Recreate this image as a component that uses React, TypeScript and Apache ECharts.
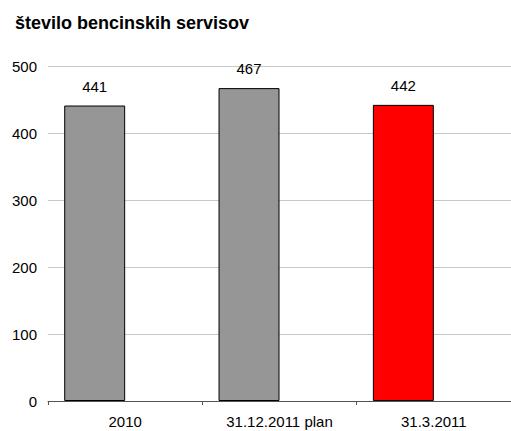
import React, { useEffect, useRef } from "react";
import * as echarts from "echarts";

const TITLE = "število bencinskih servisov";
const categories = ["2010", "31.12.2011 plan", "31.3.2011"];
const values = [441, 467, 442];
const barColors = ["#969696", "#969696", "#ff0000"];
const yTicks = { min: 0, max: 500, interval: 100 };

export default function App() {
  const ref = useRef<HTMLDivElement>(null);
  useEffect(() => {
    document.body.style.margin = "0";
    const chart = echarts.init(ref.current!, null, { renderer: "svg" });
    const font = "'Liberation Sans', Arial, sans-serif";
    chart.setOption({
      animation: false,
      backgroundColor: "#ffffff",
      title: {
        text: TITLE,
        left: 10,
        top: 9,
        textStyle: { fontFamily: font, fontSize: 18, fontWeight: "bold", color: "#000" },
      },
      grid: { left: 48, right: 0, top: 66, bottom: 30, containLabel: false },
      xAxis: {
        type: "category",
        data: categories,
        axisLine: { lineStyle: { color: "#555", width: 1 } },
        axisTick: { show: true, length: 4, lineStyle: { color: "#555" } },
        axisLabel: { fontFamily: font, fontSize: 15, color: "#000", margin: 13 },
      },
      yAxis: {
        type: "value",
        min: yTicks.min,
        max: yTicks.max,
        interval: yTicks.interval,
        axisLine: { show: false },
        axisTick: { show: false },
        splitLine: { lineStyle: { color: "#c8c8c8", width: 1 } },
        axisLabel: { fontFamily: font, fontSize: 15, color: "#000", margin: 11 },
      },
      series: [
        {
          type: "bar",
          barGap: "0%",
          barCategoryGap: "21%",
          data: values.map((v, i) => ({
            value: v,
            itemStyle: { color: barColors[i], borderColor: "#000", borderWidth: 1 },
          })),
          label: {
            show: true,
            position: "top",
            distance: 12,
            fontFamily: font,
            fontSize: 15,
            color: "#000",
          },
        },
        {
          type: "bar",
          barGap: "0%",
          barCategoryGap: "21%",
          data: categories.map(() => "-"),
        },
      ],
    });
    return () => chart.dispose();
  }, []);
  return <div ref={ref} style={{ position: "fixed", left: 0, top: 0, width: 511, height: 431 }} />;
}
